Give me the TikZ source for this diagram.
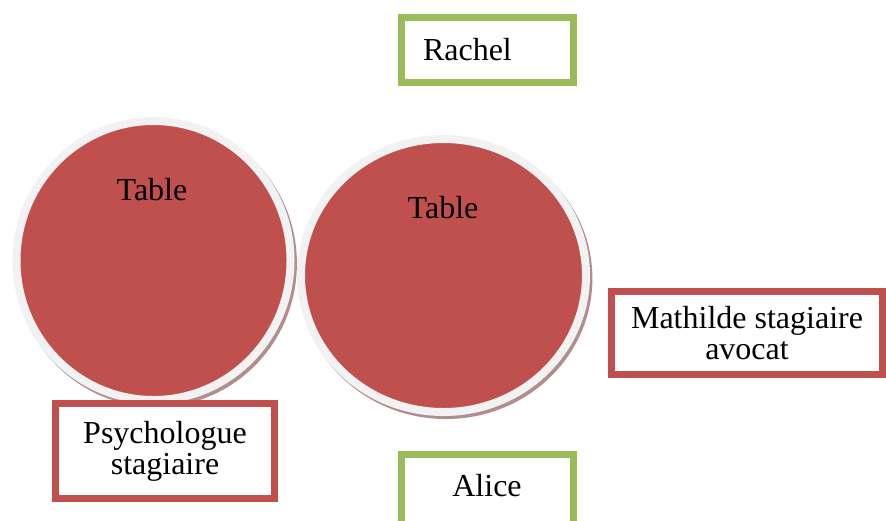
\documentclass[tikz,border=0pt]{standalone}
\usepackage{fontspec}
\setmainfont{Liberation Serif}
\usetikzlibrary{shapes.geometric, shadows}
\definecolor{tablered}{HTML}{C0504D}
\definecolor{seatgreen}{HTML}{9BBB59}
\definecolor{ringgray}{HTML}{F2F2F2}
\definecolor{shadowred}{HTML}{B08E8E}

\begin{document}
\begin{tikzpicture}[x=0.5pt, y=-0.5pt,
        every node/.style = {font = \rmfamily\fontsize{16}{15.5}\selectfont},
        tablecircle/.style = {
            ellipse,
            draw=ringgray,
            line width=4pt,
            fill=tablered,
            inner sep=0pt,
            drop shadow={shadow xshift=1.2pt, shadow yshift=-1.5pt, fill=shadowred,
                draw=shadowred, line width=4pt, opacity=1}
        },
        greenbox/.style = {
            rectangle,
            draw=seatgreen,
            fill=white,
            line width=3.5pt,
            text width=64.5pt,
            inner xsep=10.75pt,
            inner ysep=10.25pt,
            text height=11pt,
            text depth=1pt
        },
        redbox/.style = {
            rectangle,
            draw=tablered,
            fill=white,
            line width=3.5pt,
            align=center
        }
    ]
    \clip (0,0) rectangle (886,520);

    \node (table1) [tablecircle, minimum width=137pt, minimum height=139.5pt] at (153.5,260.5) {};
    \node (table2) [tablecircle, minimum width=142.5pt, minimum height=136.5pt] at (443.5,275.5) {};
    \node (table1text) [anchor=base] at (152,200) {Table};
    \node (table2text) [anchor=base] at (443,218) {Table};

    \node (rachel) [greenbox, align=left] at (487.5,50) {Rachel};
    \node (alice) [greenbox, align=center, anchor=north, text depth=40pt] at (487,450.5) {Alice};

    \node (mathilde) [redbox, minimum width=135.5pt, minimum height=41.5pt] at (747,333)
        {Mathilde stagiaire\\avocat};
    \node (psychologue) [redbox, minimum width=109.5pt, minimum height=47.5pt] at (165,451)
        {Psychologue\\stagiaire};
\end{tikzpicture}
\end{document}
